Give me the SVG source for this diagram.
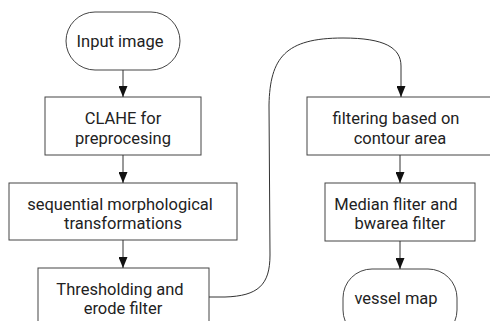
<svg xmlns="http://www.w3.org/2000/svg" width="490" height="321" viewBox="0 0 490 321">
<defs>
<marker id="ah" markerWidth="11" markerHeight="9" refX="11" refY="4.5" orient="auto" markerUnits="userSpaceOnUse">
<path d="M0,0 L11,4.5 L0,9 Z" fill="#111"/>
</marker>
<style>
.box{fill:#fff;stroke:#444;stroke-width:1}
.t{font-family:Roboto,"Liberation Sans",sans-serif;font-size:16.5px;fill:#222;text-anchor:middle}
.c{fill:none;stroke:#333;stroke-width:1}
</style>
</defs>
<rect width="490" height="321" fill="#fff"/>
<g id="n1"><rect class="box" x="66" y="12" width="114" height="58" rx="29"/><text class="t" x="120" y="47">Input image</text></g>
<g id="n2"><rect class="box" x="45" y="97" width="156" height="58"/><text class="t" x="123" y="124">CLAHE for</text><text class="t" x="123" y="144">preprocesing</text></g>
<g id="n3"><rect class="box" x="9" y="183" width="228" height="57"/><text class="t" x="120" y="210">sequential morphological</text><text class="t" x="123" y="229">transformations</text></g>
<g id="n4"><rect class="box" x="38" y="268" width="171" height="70"/><text class="t" x="120" y="295">Thresholding and</text><text class="t" x="123" y="314">erode filter</text></g>
<g id="n5"><rect class="box" x="307" y="97" width="188" height="58"/><text class="t" x="396" y="124">filtering based on</text><text class="t" x="400" y="144">contour area</text></g>
<g id="n6"><rect class="box" x="325" y="183" width="150" height="58"/><text class="t" x="396" y="210">Median fliter and</text><text class="t" x="400" y="229">bwarea filter</text></g>
<g id="n7"><rect class="box" x="343" y="269" width="114" height="70" rx="29"/><text class="t" x="396" y="304">vessel map</text></g>
<g id="edges">
<path class="c" d="M123,70 L123,97" marker-end="url(#ah)"/>
<path class="c" d="M123,155 L123,183" marker-end="url(#ah)"/>
<path class="c" d="M123,240 L123,268" marker-end="url(#ah)"/>
<path class="c" d="M209,297 L225,297 C258,296 270,285 270,255 L269,105 C270,58 285,38 343,38 C385,38 401,48 401,66 L401,97" marker-end="url(#ah)"/>
<path class="c" d="M400,155 L400,183" marker-end="url(#ah)"/>
<path class="c" d="M400,241 L400,269" marker-end="url(#ah)"/>
</g>
</svg>
